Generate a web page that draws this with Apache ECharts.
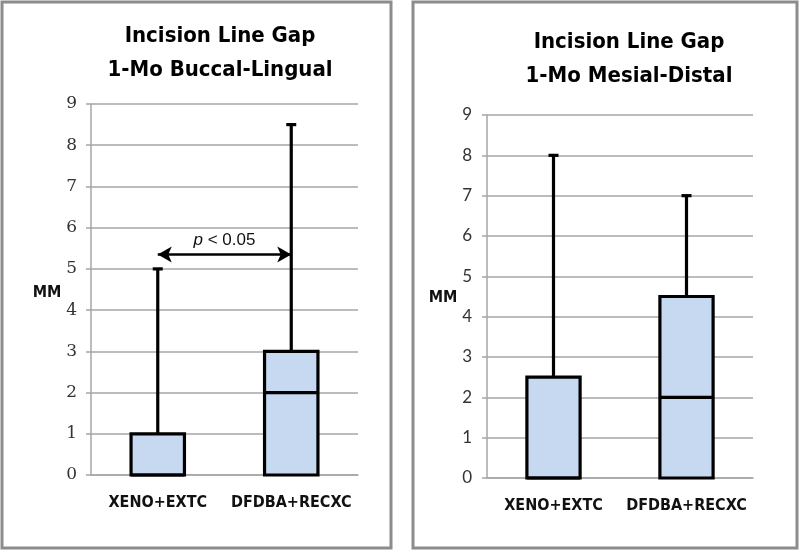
<!DOCTYPE html>
<html>
<head>
<meta charset="utf-8">
<script src="https://cdn.jsdelivr.net/npm/echarts@6/dist/echarts.min.js"></script>
<style>html,body{margin:0;padding:0;background:#fff}#c{width:800px;height:552px}</style>
</head>
<body>
<div id="c"></div>
<script>
const categories = ['XENO+EXTC', 'DFDBA+RECXC'];
const yTicks = [0,1,2,3,4,5,6,7,8,9];
// Left panel: 1-Mo Buccal-Lingual
const blMin = [0, 0];
const blQ1 = [0, 0];
const blMedian = [0, 2];
const blQ3 = [1, 3];
const blMax = [5, 8.5];
// Right panel: 1-Mo Mesial-Distal
const mdMin = [0, 0];
const mdQ1 = [0, 0];
const mdMedian = [0, 2];
const mdQ3 = [2.5, 4.5];
const mdMax = [8, 7];
// significance annotation (left panel)
const sigFrom = 0, sigTo = 1, sigY = 5.35;
const sigText = '{i|p} < 0.05';
const titles = ['Incision Line Gap\n1-Mo Buccal-Lingual', 'Incision Line Gap\n1-Mo Mesial-Distal'];

function rows(mn, q1, md, q3, mx) {
  return categories.map((c, i) => [i, mn[i], q1[i], md[i], q3[i], mx[i]]);
}

function renderBox(params, api) {
  const x = api.value(0);
  const mn = api.value(1), q1 = api.value(2), md = api.value(3), q3 = api.value(4), mx = api.value(5);
  const pMax = api.coord([x, mx]);
  const pQ3 = api.coord([x, q3]);
  const pQ1 = api.coord([x, q1]);
  const pMd = api.coord([x, md]);
  const pMn = api.coord([x, mn]);
  const bw = api.size([1, 0])[0] * 0.4;
  const cx = pMax[0];
  const ls = { stroke: '#000', lineWidth: 3.2, fill: null };
  const children = [
    { type: 'line', shape: { x1: cx, y1: pMax[1], x2: cx, y2: pQ3[1] }, style: ls },
    { type: 'line', shape: { x1: cx - 5, y1: pMax[1], x2: cx + 5, y2: pMax[1] }, style: ls },
    { type: 'rect', shape: { x: cx - bw / 2, y: pQ3[1], width: bw, height: pQ1[1] - pQ3[1] },
      style: { fill: '#c6d9f1', stroke: '#000', lineWidth: 3.2 } },
    { type: 'line', shape: { x1: cx - bw / 2, y1: pMd[1], x2: cx + bw / 2, y2: pMd[1] }, style: ls }
  ];
  if (mn < q1) {
    children.push({ type: 'line', shape: { x1: cx, y1: pQ1[1], x2: cx, y2: pMn[1] }, style: ls });
    children.push({ type: 'line', shape: { x1: cx - 5, y1: pMn[1], x2: cx + 5, y2: pMn[1] }, style: ls });
  }
  return { type: 'group', children };
}

const condFont = "'Liberation Sans Narrow','DejaVu Sans Condensed',sans-serif";

function yAx(gi, fontFamily, fontSize, margin) {
  return {
    type: 'value', gridIndex: gi, min: 0, max: 9, interval: 1,
    axisLine: { show: true, lineStyle: { color: '#a6a6a6', width: 1.5 } },
    axisTick: { show: true, length: 5, lineStyle: { color: '#a6a6a6', width: 1.5 } },
    splitLine: { show: true, lineStyle: { color: '#a6a6a6', width: 1.5 } },
    axisLabel: { color: '#333', fontSize, fontFamily, margin,
      formatter: v => yTicks.includes(v) ? String(v) : '' }
  };
}
function xAx(gi) {
  return {
    type: 'category', gridIndex: gi, data: categories,
    axisLine: { show: true, lineStyle: { color: '#a6a6a6', width: 1.5 } },
    axisTick: { show: false },
    axisLabel: { interval: 0, color: '#111', fontSize: 16, fontWeight: 'bold', margin: 20,
      fontFamily: condFont }
  };
}

const chart = echarts.init(document.getElementById('c'), null, { renderer: 'canvas' });
chart.setOption({
  animation: false,
  backgroundColor: '#fff',
  title: [
    { text: titles[0], left: 215, top: 14, textAlign: 'center',
      textStyle: { fontSize: 22, fontWeight: 'bold', color: '#000', fontFamily: condFont, lineHeight: 34 } },
    { text: titles[1], left: 624, top: 20, textAlign: 'center',
      textStyle: { fontSize: 22, fontWeight: 'bold', color: '#000', fontFamily: condFont, lineHeight: 34 } }
  ],
  graphic: [
    { type: 'rect', shape: { x: 2, y: 2, width: 389, height: 546 }, style: { fill: null, stroke: '#8c8c8c', lineWidth: 3 } },
    { type: 'rect', shape: { x: 413, y: 2, width: 384, height: 546 }, style: { fill: null, stroke: '#8c8c8c', lineWidth: 3 } },
    { type: 'text', x: 47, y: 293, style: { text: 'MM', fontSize: 16, fontWeight: 'bold', fill: '#111',
        fontFamily: condFont, align: 'center', verticalAlign: 'middle' } },
    { type: 'text', x: 443, y: 298, style: { text: 'MM', fontSize: 16, fontWeight: 'bold', fill: '#111',
        fontFamily: condFont, align: 'center', verticalAlign: 'middle' } }
  ],
  grid: [
    { left: 91, width: 267, top: 104, height: 371 },
    { left: 487, width: 266, top: 115, height: 363 }
  ],
  xAxis: [xAx(0), xAx(1)],
  yAxis: [yAx(0, "'DejaVu Serif',serif", 17, 14), yAx(1, "Lato,'Open Sans',sans-serif", 17, 15)],
  series: [
    { type: 'custom', xAxisIndex: 0, yAxisIndex: 0, renderItem: renderBox,
      encode: { x: 0, y: [1, 2, 3, 4, 5] }, data: rows(blMin, blQ1, blMedian, blQ3, blMax),
      markLine: {
        silent: true, symbol: ['arrow', 'arrow'], symbolSize: [12, 14], symbolOffset: 0,
        lineStyle: { color: '#000', width: 2.5, type: 'solid' },
        label: { show: true, position: 'middle', formatter: sigText, color: '#111', fontSize: 17,
          fontFamily: "'Liberation Sans',sans-serif", distance: 6,
          rich: { i: { fontStyle: 'italic', fontSize: 17, color: '#111', fontFamily: "'Liberation Sans',sans-serif" } } },
        data: [[{ coord: [sigFrom, sigY] }, { coord: [sigTo, sigY] }]]
      } },
    { type: 'custom', xAxisIndex: 1, yAxisIndex: 1, renderItem: renderBox,
      encode: { x: 0, y: [1, 2, 3, 4, 5] }, data: rows(mdMin, mdQ1, mdMedian, mdQ3, mdMax) }
  ]
});
</script>
</body>
</html>
